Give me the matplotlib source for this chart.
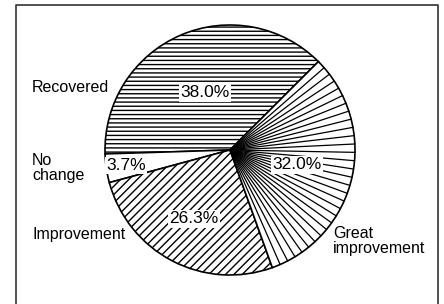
import numpy as np
import matplotlib.pyplot as plt

plt.rcParams['font.family'] = ['Liberation Sans', 'DejaVu Sans']
plt.rcParams['hatch.linewidth'] = 1.0

categories = ["Recovered", "No\nchange", "Improvement", "Great\nimprovement"]
shares = [38.0, 3.7, 26.3, 32.0]

# look of each slice
hatches = ["----", "", "////", ""]
pct_radius = [0.5, 0.84, 0.62, 0.55]
label_xy = [(32, 87), (32, 168), (32, 234), (333, 241)]
n_rays = 30

W, H = 444, 304
fig = plt.figure(figsize=(W / 100, H / 100), dpi=100)
ax = fig.add_axes([0, 0, 1, 1])

cx, cy, r = 230, H - 150, 125
wedges, _ = ax.pie(
    shares,
    startangle=45,
    center=(cx, cy),
    radius=r,
    colors=["white"] * len(shares),
    wedgeprops=dict(edgecolor="black", linewidth=1.2),
)
for w, h in zip(wedges, hatches):
    w.set_hatch(h)

# radial rays in the "Great improvement" slice
gw = wedges[3]
for a in np.radians(np.linspace(gw.theta1, gw.theta2, n_rays + 1)[1:-1]):
    ax.plot([cx, cx + r * np.cos(a)], [cy, cy + r * np.sin(a)],
            color="black", lw=0.9, zorder=2)

for w, v, f in zip(wedges, shares, pct_radius):
    mid = np.radians((w.theta1 + w.theta2) / 2)
    ax.text(cx + f * r * np.cos(mid), cy + f * r * np.sin(mid), f"{v:.1f}%",
            ha="center", va="center", fontsize=12.5, zorder=5,
            bbox=dict(facecolor="white", edgecolor="none", pad=1))

for name, (x, y) in zip(categories, label_xy):
    ax.text(x, H - y, name, ha="left", va="center", fontsize=11.5,
            linespacing=1.0)

# frame around the figure, open at the bottom
ax.plot([16, 16, 438, 438], [-5, H - 5, H - 5, -5], color="#333333",
        lw=1.2, clip_on=False)

ax.set_xlim(0, W)
ax.set_ylim(0, H)
ax.axis("off")
fig.savefig("out.png", dpi=100)
